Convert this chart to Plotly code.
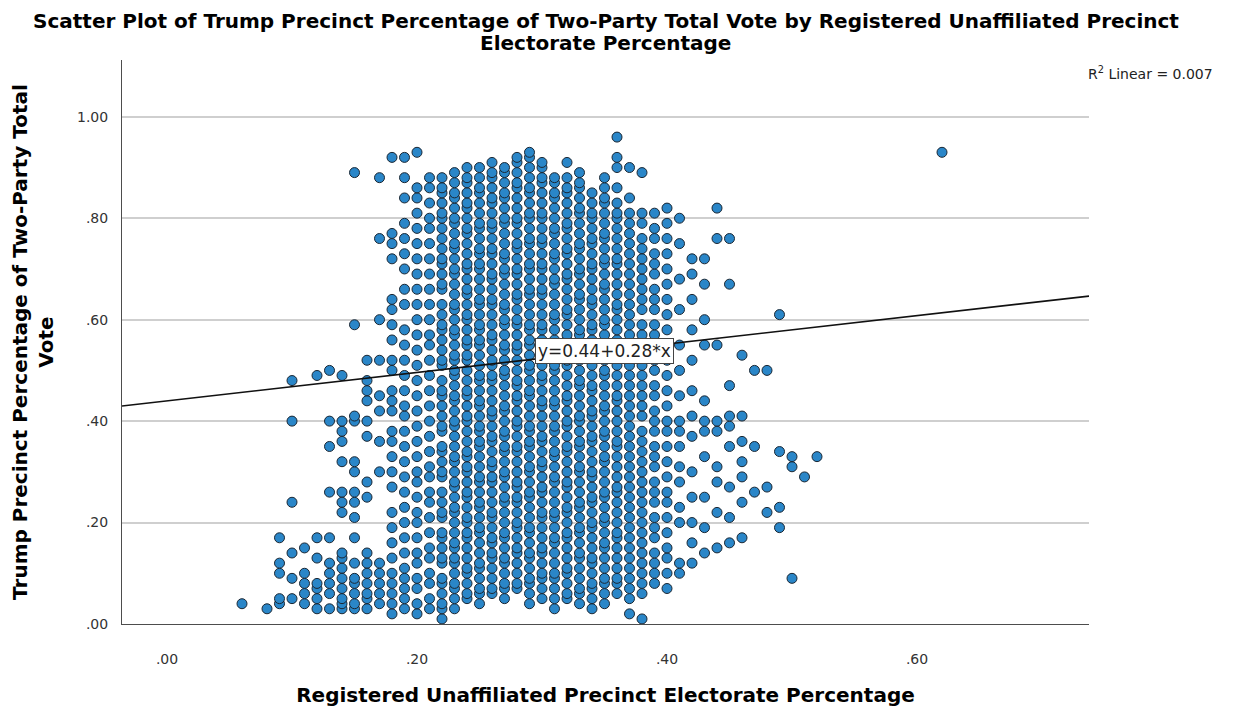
import plotly.graph_objects as go

# Registered-unaffiliated share (x) columns and the Trump two-party share (y, in hundredths)
# of the precincts that sit in each column.
unaffiliated_pct = [0.06, 0.08, 0.09, 0.10, 0.11, 0.12, 0.13, 0.14, 0.15, 0.16, 0.17, 0.18,
                    0.19, 0.20, 0.21, 0.22, 0.23, 0.24, 0.25, 0.26, 0.27, 0.28, 0.29, 0.30,
                    0.31, 0.32, 0.33, 0.34, 0.35, 0.36, 0.37, 0.38, 0.39, 0.40, 0.41, 0.42,
                    0.43, 0.44, 0.45, 0.46, 0.47, 0.48, 0.49, 0.50, 0.51, 0.52, 0.62]

trump_pct_by_column = [
    "04",
    "03",
    "04 05 10 12 17",
    "05 09 14 24 40 48",
    "04 06 08 10 15",
    "03 05 07 08 13 17 49",
    "03 06 08 10 12 17 26 35 40 50",
    "03 04 05 07 09 11 13 14 22 24 26 32 36 38 40 49",
    "03 04 06 08 09 12 17 21 24 26 30 32 40 41 59 89",
    "03 05 06 08 10 12 14 25 28 37 40 44 46 48 52",
    "04 06 08 10 12 30 36 42 45 52 60 76 88",
    "02 04 06 08 10 13 16 19 22 27 30 33 36 38 42 44 46 50 52 56 59 62 64 72 75 77 92",
    "03 05 07 09 11 14 17 20 23 26 29 32 35 38 41 43 46 49 52 55 58 63 66 70 73 76 79 84 88 92",
    "02 04 07 09 12 14 17 20 22 25 28 30 33 36 39 42 45 48 51 54 57 60 63 66 69 72 75 78 81 84 86 93",
    "03 05 08 10 13 15 18 21 24 26 29 31 34 37 40 43 46 49 52 55 57 60 63 66 69 72 75 78 80 83 86 88",
    "01 03 04 06 08 09 12 13 15 17 18 21 22 24 26 29 30 32 34 35 38 39 41 43 45 46 48 51 52 54 56 58 59 61 63 66 67 69 71 72 74 76 78 80 81 83 85 86 88",
    "03 05 07 08 10 12 13 15 16 18 20 22 23 25 27 28 30 32 33 35 37 39 40 42 44 45 47 49 50 52 53 55 57 58 60 62 63 65 67 69 70 72 74 75 77 79 80 82 84 85 87 89",
    "05 06 08 10 11 13 15 17 18 20 21 23 25 26 28 30 31 33 34 36 38 40 41 43 45 46 48 50 52 53 55 56 58 60 61 63 65 66 68 70 71 73 75 77 78 80 82 83 85 87 88 90",
    "04 06 07 09 11 12 14 16 18 19 21 23 24 26 28 29 31 33 35 36 38 39 41 43 44 46 48 49 51 53 55 56 58 59 61 63 64 66 68 70 71 73 74 76 78 79 81 83 85 86 88 90",
    "06 07 09 11 13 14 16 17 19 21 22 24 26 28 29 31 32 34 36 37 39 41 42 44 46 48 49 51 52 54 56 57 59 61 63 64 66 68 69 71 73 74 76 78 79 81 83 84 86 88 89 91",
    "05 07 08 10 12 13 15 17 18 20 22 24 25 27 29 30 32 34 35 37 38 40 42 43 45 47 49 50 52 54 55 57 59 60 62 63 65 67 69 70 72 73 75 77 79 80 82 84 85 87 89 90",
    "07 08 10 12 14 15 17 19 20 22 24 25 27 28 30 32 34 35 37 39 40 42 44 45 47 48 50 52 54 55 57 59 60 62 64 65 67 69 70 72 74 75 77 79 80 82 84 86 87 89 91 92",
    "04 06 08 09 11 13 14 16 18 19 21 23 25 26 28 30 31 33 35 36 38 39 41 43 45 46 48 50 51 53 55 56 58 59 61 63 65 66 68 70 71 73 75 76 78 80 81 83 85 86 88 90 92 93",
    "05 07 09 10 12 14 15 17 19 21 22 24 26 27 29 31 32 34 36 37 39 41 43 44 46 48 49 51 53 54 56 58 59 61 63 65 66 68 70 71 73 75 76 78 80 81 83 85 87 88 90 91",
    "03 05 07 09 10 12 14 16 17 19 21 22 24 26 28 29 31 33 34 36 38 39 41 43 44 46 48 50 51 53 55 56 58 60 61 63 65 67 68 70 72 73 75 77 78 80 82 84 85 87 88",
    "05 06 08 10 11 13 15 17 18 20 22 23 25 27 28 30 32 34 35 37 39 40 42 44 45 47 49 51 52 54 56 57 59 61 62 64 66 68 69 71 73 74 76 78 79 81 83 85 86 88 91",
    "04 06 07 09 11 13 14 16 18 19 21 23 24 26 28 30 31 33 35 36 38 40 41 43 45 47 48 50 52 53 55 57 58 60 62 64 65 67 69 70 72 74 75 77 79 81 82 84 86 87 89",
    "03 05 07 08 10 12 13 15 17 19 20 22 24 25 27 29 30 32 34 36 37 39 41 42 44 46 47 49 51 53 54 56 58 59 61 63 64 66 68 70 71 73 75 76 78 80 81 83 85",
    "04 06 08 09 11 13 15 16 18 20 21 23 25 26 28 30 32 33 35 37 38 40 42 43 45 47 49 50 52 54 55 57 59 60 62 64 66 67 69 71 72 74 76 77 79 81 83 84 86 88",
    "06 08 09 11 13 15 17 18 20 22 24 26 27 29 31 33 35 36 38 40 42 44 45 47 49 51 53 54 56 58 60 62 63 65 67 69 71 72 74 76 78 80 81 83 86 90 92 96",
    "02 05 07 09 11 13 15 17 19 21 23 25 27 29 31 33 35 37 39 41 43 45 47 49 51 53 55 57 59 61 63 65 67 69 71 73 75 77 79 81 84 90",
    "01 06 08 10 12 14 16 18 20 22 24 26 28 30 32 34 36 38 41 43 45 47 49 51 53 55 57 59 62 64 66 68 70 72 74 76 79 81 89",
    "08 10 12 14 17 19 21 24 26 28 31 33 35 38 40 42 45 47 50 52 54 57 59 62 64 66 69 71 73 76 78 81",
    "07 10 13 15 18 21 24 26 29 32 35 38 40 43 46 49 52 55 58 61 64 67 70 73 76 79 82",
    "10 12 20 23 28 31 35 38 40 45 50 55 62 68 75 80",
    "12 16 20 25 30 37 41 46 52 58 64 69 72",
    "14 19 25 33 38 40 44 55 60 67 72",
    "15 22 28 31 38 40 55 76 82",
    "16 21 27 35 39 41 47 67 76",
    "17 24 29 32 36 41 53",
    "26 35 50",
    "22 27 50",
    "19 23 34 61",
    "09 31 33",
    "29",
    "33",
    "93",
]

# Fitted line, as printed on the chart
intercept = 0.44
slope = 0.28
r_squared = 0.007

x_ticks = [0.0, 0.2, 0.4, 0.6]
x_tick_text = [".00", ".20", ".40", ".60"]
y_ticks = [0.0, 0.2, 0.4, 0.6, 0.8, 1.0]
y_tick_text = [".00", ".20", ".40", ".60", ".80", "1.00"]

x_range = [-0.036, 0.7376]
y_range = [0.0, 1.112]

xs, ys = [], []
for xv, col in zip(unaffiliated_pct, trump_pct_by_column):
    for tok in col.split():
        xs.append(xv)
        ys.append(int(tok) / 100)

fig = go.Figure()

fig.add_trace(go.Scatter(
    x=xs, y=ys, mode="markers",
    marker=dict(size=10, color="#2a86c8", line=dict(color="#1b2733", width=1)),
    hoverinfo="x+y", showlegend=False,
))

fit_x = [x_range[0], x_range[1]]
fit_y = [intercept + slope * v for v in fit_x]
fig.add_trace(go.Scatter(
    x=fit_x, y=fit_y, mode="lines",
    line=dict(color="#111111", width=1.6),
    hoverinfo="skip", showlegend=False,
))

label_x = 0.35
fig.add_annotation(
    x=label_x, y=intercept + slope * label_x,
    text=f"y={intercept:.2f}+{slope:.2f}*x",
    showarrow=False, xanchor="center", yanchor="middle",
    font=dict(family="DejaVu Sans, Verdana, sans-serif", size=17, color="#222222"),
    bgcolor="#ffffff", bordercolor="#444444", borderwidth=1, borderpad=2,
)

fig.add_annotation(
    xref="paper", yref="paper", x=0.997, y=0.9775, xanchor="left", yanchor="middle",
    text=f"R<sup>2</sup> Linear = {r_squared:.3f}", showarrow=False,
    font=dict(family="DejaVu Sans, Verdana, sans-serif", size=14, color="#222222"),
)

title_font = "DejaVu Sans, sans-serif"
heading = dict(family=title_font, size=20, color="#000000", weight="bold")

# Two-line heading, drawn as two lines with tight leading
fig.add_annotation(
    xref="paper", yref="paper", x=0.5, y=1.069, xanchor="center", yanchor="middle",
    text="Scatter Plot of Trump Precinct Percentage of Two-Party Total Vote by Registered Unaffiliated Precinct",
    showarrow=False, font=heading,
)
fig.add_annotation(
    xref="paper", yref="paper", x=0.5, y=1.031, xanchor="center", yanchor="middle",
    text="Electorate Percentage", showarrow=False, font=heading,
)

tick_font = dict(family="DejaVu Sans, Verdana, sans-serif", size=14, color="#333333")

fig.update_layout(
    width=1244, height=715,
    paper_bgcolor="#ffffff", plot_bgcolor="#ffffff",
    margin=dict(l=122, r=155, t=60, b=76),
    xaxis=dict(
        range=x_range, tickvals=x_ticks, ticktext=x_tick_text,
        showgrid=False, zeroline=False, showline=True, linecolor="#4d4d4d", linewidth=1,
        ticks="", ticklabelstandoff=22, tickfont=tick_font,
        title=dict(text="Registered Unaffiliated Precinct Electorate Percentage", standoff=22,
                   font=dict(family=title_font, size=20, color="#000000", weight="bold")),
    ),
    yaxis=dict(
        range=y_range, tickvals=y_ticks, ticktext=y_tick_text,
        showgrid=True, gridcolor="#cfcfcf", gridwidth=2, zeroline=False,
        showline=True, linecolor="#4d4d4d", linewidth=1,
        ticks="", ticklabelstandoff=10, tickfont=tick_font,
        title=dict(text="Trump Precinct Percentage of Two-Party Total<br>Vote", standoff=18,
                   font=dict(family=title_font, size=20, color="#000000", weight="bold")),
    ),
)

fig.write_html("out.html")
